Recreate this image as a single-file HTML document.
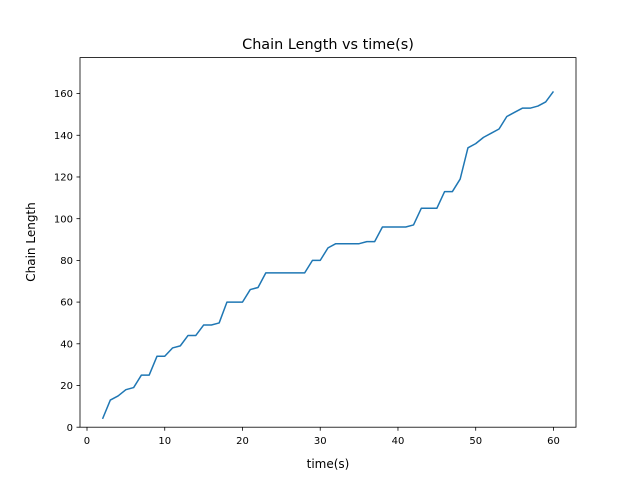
<!DOCTYPE html>
<html><head><meta charset="utf-8"><style>body{margin:0;background:#fff}svg{display:block;font-family:"DejaVu Sans","Liberation Sans",sans-serif}</style></head>
<body>
<svg id="chart" width="640" height="480">
<rect width="640" height="480" fill="#fff"/>
<g id="ticks"></g>
<path id="line" fill="none" stroke="#1f77b4" stroke-width="1.5" stroke-linejoin="round"/>
<rect x="80" y="57.6" width="496" height="369.6" fill="none" stroke="#000" stroke-width="0.8"/>
<text x="328" y="49" text-anchor="middle" font-size="14.4">Chain Length vs time(s)</text>
<text x="328" y="468" text-anchor="middle" font-size="12">time(s)</text>
<text transform="translate(35,242) rotate(-90)" text-anchor="middle" font-size="12">Chain Length</text>
</svg>
<script>
const times = [2,3,4,5,6,7,8,9,10,11,12,13,14,15,16,17,18,19,20,21,22,23,24,25,26,27,28,29,30,31,32,33,34,35,36,37,38,39,40,41,42,43,44,45,46,47,48,49,50,51,52,53,54,55,56,57,58,59,60];
const lengths = [4,13,15,18,19,25,25,34,34,38,39,44,44,49,49,50,60,60,60,66,67,74,74,74,74,74,74,80,80,86,88,88,88,88,89,89,96,96,96,96,97,105,105,105,113,113,119,134,136,139,141,143,149,151,153,153,154,156,161];
const xTicks = [0,10,20,30,40,50,60];
const yTicks = [0,20,40,60,80,100,120,140,160];
const L=80,R=576,T=57.6,B=427.2;
const xmin=Math.min(...times),xmax=Math.max(...times),xm=(xmax-xmin)*0.05;
const x0=xmin-xm,x1=xmax+xm;
const ymax=Math.max(...lengths),ymin=Math.min(...lengths);
const y0=0,y1=ymax+(ymax-ymin)*0.05+8.4;
const sx=v=>L+(v-x0)/(x1-x0)*(R-L);
const sy=v=>B-(v-y0)/(y1-y0)*(B-T);
const NS="http://www.w3.org/2000/svg";
const g=document.getElementById('ticks');
function mk(tag,attrs,txt){const e=document.createElementNS(NS,tag);for(const k in attrs)e.setAttribute(k,attrs[k]);if(txt!==undefined)e.textContent=txt;g.appendChild(e);return e;}
xTicks.forEach(t=>{const x=sx(t);
 const l=mk('line',{x1:x,x2:x,y1:B,y2:B+3.5,stroke:'#000','stroke-width':0.8});
 
 
 const s=mk('text',{x:x,y:B+17,'text-anchor':'middle','font-size':10},t);
 
 });
yTicks.forEach(t=>{const y=sy(t);
 const l=mk('line',{x1:L-3.5,x2:L,y1:y,y2:y,stroke:'#000','stroke-width':0.8});
 
 
 const s=mk('text',{x:L-7,y:y+3.6,'text-anchor':'end','font-size':10},t);
 
 });
document.getElementById('line').setAttribute('d',times.map((t,i)=>(i?'L':'M')+sx(t).toFixed(2)+','+sy(lengths[i]).toFixed(2)).join(''));
</script>
</body></html>
